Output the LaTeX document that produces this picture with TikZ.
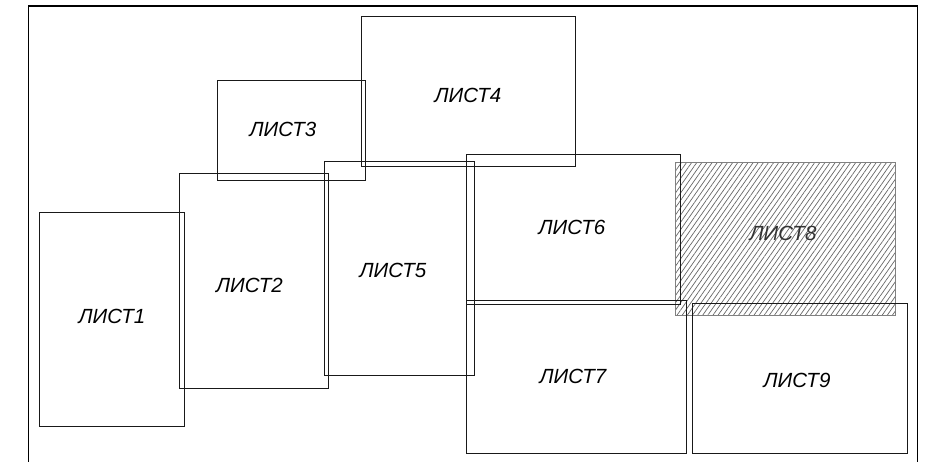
\documentclass[tikz,border=0pt]{standalone}
\usepackage{fontspec}
\setmainfont{Liberation Sans}
\usetikzlibrary{patterns.meta}
\begin{document}
\begin{tikzpicture}[x=1pt,y=-1pt,
  frameline/.style={draw=black,line width=1.1pt},
  sheet/.style={draw=black!90,line width=0.9pt},
  hatched/.style={draw=black!50,line width=1pt,
    pattern={Lines[angle=55,distance=4.2pt,line width=0.7pt]},pattern color=black!60},
  lbl/.style={font=\fontsize{20.5}{24}\selectfont\itshape,inner sep=0pt,text=black}]
\useasboundingbox (0,0) rectangle (949,462);
% frame
\draw[frameline] (28.3,462) -- (28.3,6) -- (917.5,6) -- (917.5,462);
% sheet 8 (hatched)
\draw[hatched] (675,163) rectangle (895.7,315.7);
% sheets
\draw[sheet] (39.3,212.3) rectangle (184.5,426);
\draw[sheet] (179,173.7) rectangle (328.7,388);
\draw[sheet] (217.3,80.7) rectangle (365.3,180.7);
\draw[sheet] (361.3,16.7) rectangle (575.7,166.3);
\draw[sheet] (324,161) rectangle (474.3,375.3);
\draw[sheet] (466,154) rectangle (680.5,304);
\draw[sheet] (466.7,300) rectangle (686.7,453.3);
\draw[sheet] (692.7,303.7) rectangle (907.3,453.3);
% labels
\node[lbl] (l1) at (112,316) {ЛИСТ1};
\node[lbl] (l2) at (249.5,285) {ЛИСТ2};
\node[lbl] (l3) at (283,129) {ЛИСТ3};
\node[lbl] (l4) at (468,95) {ЛИСТ4};
\node[lbl] (l5) at (393,270) {ЛИСТ5};
\node[lbl] (l6) at (572,227) {ЛИСТ6};
\node[lbl] (l7) at (573,376) {ЛИСТ7};
\node[lbl,text=black!80] (l8) at (783,233) {ЛИСТ8};
\node[lbl] (l9) at (797,380) {ЛИСТ9};
\end{tikzpicture}
\end{document}
